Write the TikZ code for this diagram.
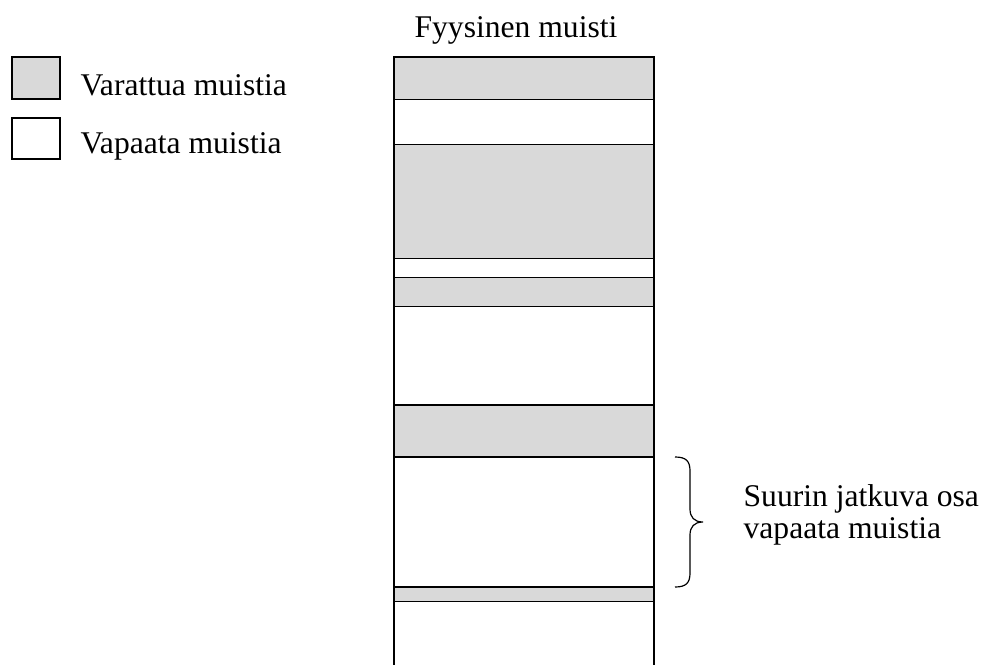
\documentclass[tikz,border=0pt]{standalone}
\usepackage{fontspec}
\setmainfont{Liberation Serif}
\begin{document}
\begin{tikzpicture}[x=1pt,y=-1pt,line width=1.3pt,
  used/.style={draw=black,fill=memgray},
  free/.style={draw=black,fill=white},
  lbl/.style={anchor=base west,inner sep=0pt,font=\fontsize{31.6}{34}\selectfont}]
\definecolor{memgray}{HTML}{D9D9D9}
\useasboundingbox (0,0) rectangle (984,664);

% legend
\draw[used] (12,57) rectangle (60,99);
\node[lbl] (legused) at (80,95) {Varattua muistia};
\draw[free] (12,118) rectangle (60,159);
\node[lbl] (legfree) at (80,153) {Vapaata muistia};

% physical memory column
\node[lbl,anchor=base] (title) at (516,37) {Fyysinen muisti};
\begin{scope}
\clip (380,0) rectangle (670,664);
\draw[used] (394,57) rectangle (654,99.5);
\draw[free] (394,99.5) rectangle (654,144.5);
\draw[used] (394,144.5) rectangle (654,258.5);
\draw[free] (394,258.5) rectangle (654,277.5);
\draw[used] (394,277.5) rectangle (654,306.5);
\draw[free] (394,306.5) rectangle (654,405);
\draw[used] (394,405) rectangle (654,457);
\draw[free] (394,457) rectangle (654,587);
\draw[used] (394,587) rectangle (654,601.5);
\draw[free] (394,601.5) rectangle (654,680);
\end{scope}

% brace marking the largest free block
\coordinate (btop) at (675,457);
\coordinate (bbot) at (675,587);
\coordinate (btip) at (703,522);
\draw[line width=1.2pt] (btop) .. controls (686,457) and (690,461) .. (690,471)
  -- (690,509) .. controls (690,517) and (694,522) .. (btip)
  .. controls (694,522) and (690,527) .. (690,535)
  -- (690,573) .. controls (690,583) and (686,587) .. (bbot);
\node[lbl] (big1) at (743,506) {Suurin jatkuva osa};
\node[lbl] (big2) at (743,538) {vapaata muistia};
\end{tikzpicture}
\end{document}
